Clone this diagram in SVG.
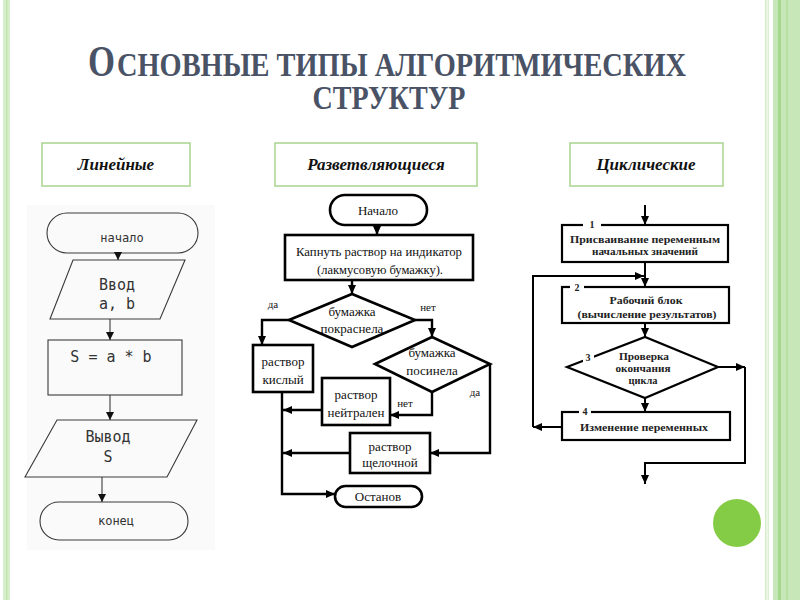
<svg xmlns="http://www.w3.org/2000/svg" width="800" height="600" viewBox="0 0 800 600">
<defs>
<style>
.title{font-family:"Liberation Serif","Times New Roman",serif;fill:#4a5366;font-weight:bold}
.cat{fill:#fff;stroke:#a9d48f;stroke-width:1.5}
.catt{font-family:"Liberation Serif",serif;font-weight:bold;font-style:italic;font-size:17px;fill:#111;text-anchor:middle}
.ln{fill:none;stroke:#3a3a3a;stroke-width:1.1}
.lt{font-family:"DejaVu Sans Mono","Liberation Mono",monospace;fill:#333;text-anchor:middle}
.mn{fill:#fff;stroke:#000;stroke-width:2.6}
.mc{fill:none;stroke:#000;stroke-width:2.4}
.mt{font-family:"Liberation Serif","Times New Roman",serif;font-size:13px;fill:#111;text-anchor:middle}
.ml{font-family:"Liberation Serif","Times New Roman",serif;font-size:11px;fill:#111;text-anchor:middle}
.rn{fill:#fff;stroke:#000;stroke-width:2.2}
.rc{fill:none;stroke:#000;stroke-width:2}
.rt{font-family:"Liberation Serif","Times New Roman",serif;font-size:11px;font-weight:bold;fill:#222;text-anchor:middle}
.rl{font-family:"Liberation Serif",serif;font-size:10px;font-weight:bold;fill:#222;text-anchor:middle}
</style>
<marker id="a1" markerUnits="userSpaceOnUse" markerWidth="8" markerHeight="8" refX="8" refY="4" orient="auto"><path d="M0,0 L8,4 L0,8 z" fill="#111"/></marker>
<marker id="a2" markerUnits="userSpaceOnUse" markerWidth="9" markerHeight="8" refX="9" refY="4" orient="auto"><path d="M0,0 L9,4 L0,8 z" fill="#000"/></marker>
<marker id="a3" markerUnits="userSpaceOnUse" markerWidth="9" markerHeight="8" refX="9" refY="4" orient="auto"><path d="M0,0 L9,4 L0,8 z" fill="#000"/></marker>
</defs>
<rect width="800" height="600" fill="#fff"/>
<g id="border">
<rect x="3" y="0" width="7" height="600" fill="#d6eecb"/>
<rect x="6" y="0" width="1.5" height="600" fill="#c4e6b3"/>
<rect x="765" y="0" width="1.5" height="600" fill="#d3ecc7"/>
<rect x="767.5" y="0" width="1.5" height="600" fill="#d9efcf"/>
<rect x="773" y="0" width="27" height="600" fill="#c8e7b8"/>
<rect x="778" y="0" width="3" height="600" fill="#a6d78e"/>
<rect x="786" y="0" width="2" height="600" fill="#b8e0a5"/>
</g>
<circle id="dot" cx="737" cy="523" r="24" fill="#84cc45"/>
<g id="title">
<text class="title" x="88" y="76" font-size="45" textLength="27" lengthAdjust="spacingAndGlyphs">О</text>
<text class="title" x="117" y="76" font-size="34" textLength="569" lengthAdjust="spacingAndGlyphs">СНОВНЫЕ ТИПЫ АЛГОРИТМИЧЕСКИХ</text>
<text class="title" x="389" y="109" font-size="34" text-anchor="middle" textLength="153" lengthAdjust="spacingAndGlyphs">СТРУКТУР</text>
</g>
<g id="cat-linear"><rect class="cat" x="42" y="143" width="148" height="43"/><text class="catt" x="116" y="170">Линейные</text></g>
<g id="cat-branch"><rect class="cat" x="275" y="143" width="202" height="43"/><text class="catt" x="376" y="170">Разветвляющиеся</text></g>
<g id="cat-loop"><rect class="cat" x="570" y="143" width="153" height="43"/><text class="catt" x="646" y="170">Циклические</text></g>

<rect x="27" y="205" width="188" height="345" fill="#fafafa"/>
<g id="lin-start"><rect class="ln" x="47" y="213" width="151" height="40" rx="20" fill="#fff"/><text class="lt" x="122" y="242" font-size="12">начало</text></g>
<g id="lin-input"><polygon class="ln" points="73,260 185,260 160,319 50,319" fill="#fff"/><text class="lt" x="117" y="290" font-size="15">Ввод</text><text class="lt" x="117" y="309" font-size="15">a, b</text></g>
<g id="lin-calc"><rect class="ln" x="48" y="340" width="134" height="55" fill="#fff"/><text class="lt" x="111" y="362" font-size="15">S = a * b</text></g>
<g id="lin-output"><polygon class="ln" points="57,420 197,420 167,477 25,477" fill="#fff"/><text class="lt" x="108" y="442" font-size="15">Вывод</text><text class="lt" x="108" y="462" font-size="15">S</text></g>
<g id="lin-end"><rect class="ln" x="40" y="502" width="148" height="38" rx="19" fill="#fff"/><text class="lt" x="116" y="525" font-size="12">конец</text></g>
<g id="lin-connectors">
<line class="ln" x1="118" y1="253" x2="118" y2="260" marker-end="url(#a1)"/>
<line class="ln" x1="110" y1="319" x2="110" y2="340" marker-end="url(#a1)"/>
<line class="ln" x1="110" y1="395" x2="110" y2="420" marker-end="url(#a1)"/>
<line class="ln" x1="102" y1="477" x2="102" y2="502" marker-end="url(#a1)"/>
</g>

<g id="br-connectors">
<line class="mc" x1="377" y1="225" x2="377" y2="235" marker-end="url(#a2)"/>
<line class="mc" x1="352" y1="280" x2="352" y2="294" marker-end="url(#a2)"/>
<polyline class="mc" points="289,320 262,320 262,345" marker-end="url(#a2)"/>
<polyline class="mc" points="415,320 432,320 432,337" marker-end="url(#a2)"/>
<polyline class="mc" points="432,392 432,415 390,415" marker-end="url(#a2)"/>
<polyline class="mc" points="490,364 490,453 430,453" marker-end="url(#a2)"/>
<polyline class="mc" points="282,392 282,494 335,494" marker-end="url(#a2)"/>
<line class="mc" x1="322" y1="410" x2="283" y2="410" marker-end="url(#a2)"/>
<line class="mc" x1="350" y1="453" x2="283" y2="453" marker-end="url(#a2)"/>
</g>
<g id="br-start"><rect class="mn" x="330" y="195" width="97" height="30" rx="15"/><text class="mt" x="378" y="215">Начало</text></g>
<g id="br-drop"><rect class="mn" x="285" y="235" width="188" height="45"/><text class="mt" x="379" y="256" textLength="166" lengthAdjust="spacingAndGlyphs">Капнуть раствор на индикатор</text><text class="mt" x="380" y="274" textLength="126" lengthAdjust="spacingAndGlyphs">(лакмусовую бумажку).</text></g>
<g id="br-red"><polygon class="mn" points="289,320 352,294 415,320 352,347"/><text class="mt" x="352" y="316">бумажка</text><text class="mt" x="352" y="333">покраснела</text></g>
<g id="br-blue"><polygon class="mn" points="375,364 432,337 490,364 432,392"/><text class="mt" x="432" y="357">бумажка</text><text class="mt" x="432" y="375">посинела</text></g>
<g id="br-acid"><rect class="mn" x="253" y="345" width="60" height="47"/><text class="mt" x="283" y="366">раствор</text><text class="mt" x="283" y="384">кислый</text></g>
<g id="br-neutral"><rect class="mn" x="322" y="378" width="68" height="47"/><text class="mt" x="356" y="399">раствор</text><text class="mt" x="356" y="417">нейтрален</text></g>
<g id="br-alkali"><rect class="mn" x="350" y="433" width="80" height="40"/><text class="mt" x="390" y="451">раствор</text><text class="mt" x="390" y="467">щелочной</text></g>
<g id="br-stop"><rect class="mn" x="335" y="486" width="87" height="21" rx="10.5"/><text class="mt" x="378" y="501">Останов</text></g>
<g id="br-labels">
<text class="ml" x="273" y="308">да</text>
<text class="ml" x="428" y="311">нет</text>
<text class="ml" x="405" y="407">нет</text>
<text class="ml" x="475" y="396">да</text>
</g>

<g id="lp-connectors">
<line class="rc" x1="645" y1="205" x2="645" y2="225" marker-end="url(#a3)"/>
<line class="rc" x1="645" y1="262" x2="645" y2="287" marker-end="url(#a3)"/>
<line class="rc" x1="645" y1="323" x2="645" y2="337" marker-end="url(#a3)"/>
<line class="rc" x1="645" y1="398" x2="645" y2="412" marker-end="url(#a3)"/>
<line class="rc" x1="562" y1="427" x2="533" y2="427" marker-end="url(#a3)"/>
<polyline class="rc" points="533,427 533,276 644,276" marker-end="url(#a3)"/>
<line class="rc" x1="718" y1="367" x2="745" y2="367" marker-end="url(#a3)"/>
<polyline class="rc" points="745,367 745,463 645,463 645,484" marker-end="url(#a3)"/>
</g>
<g id="lp-init"><rect class="rn" x="562" y="225" width="166" height="37"/><rect x="583" y="221" width="18" height="8" fill="#fff"/><text class="rl" x="592" y="228">1</text><text class="rt" x="645" y="243" textLength="150" lengthAdjust="spacingAndGlyphs">Присваивание переменным</text><text class="rt" x="645" y="255" textLength="106" lengthAdjust="spacingAndGlyphs">начальных значений</text></g>
<g id="lp-work"><rect class="rn" x="562" y="287" width="167" height="36"/><rect x="570" y="283" width="14" height="8" fill="#fff"/><text class="rl" x="577" y="291">2</text><text class="rt" x="646" y="304" textLength="73" lengthAdjust="spacingAndGlyphs">Рабочий блок</text><text class="rt" x="647" y="318" textLength="139" lengthAdjust="spacingAndGlyphs">(вычисление результатов)</text></g>
<g id="lp-check"><polygon class="rn" points="567,367 645,337 718,367 645,398"/><rect x="583" y="352" width="11" height="10" fill="#fff"/><text class="rl" x="588" y="361">3</text><text class="rt" x="644" y="360" textLength="50" lengthAdjust="spacingAndGlyphs">Проверка</text><text class="rt" x="643" y="372" textLength="55" lengthAdjust="spacingAndGlyphs">окончания</text><text class="rt" x="643" y="384" textLength="29" lengthAdjust="spacingAndGlyphs">цикла</text></g>
<g id="lp-change"><rect class="rn" x="562" y="412" width="168" height="28"/><rect x="579" y="408" width="12" height="8" fill="#fff"/><text class="rl" x="585" y="415">4</text><text class="rt" x="644" y="431" textLength="128" lengthAdjust="spacingAndGlyphs">Изменение переменных</text></g>
</svg>
